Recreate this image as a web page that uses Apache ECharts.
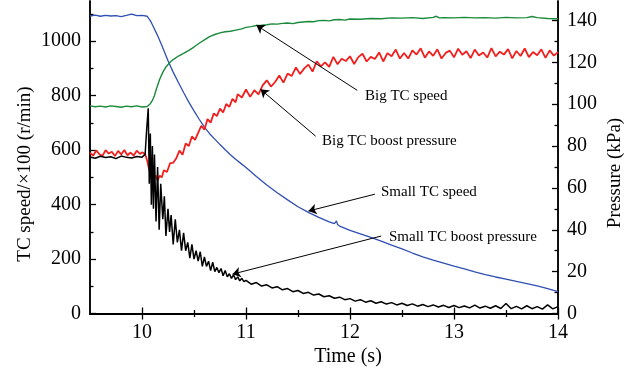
<!DOCTYPE html>
<html>
<head>
<meta charset="utf-8">
<script src="https://cdn.jsdelivr.net/npm/echarts@6/dist/echarts.min.js"></script>
<style>html,body{margin:0;padding:0;background:#fff}#c{width:637px;height:379px}</style>
</head>
<body>
<div id="c"></div>
<script>
// ---- tick labels ----
const xMajor = [10, 11, 12, 13, 14];
const xMinor = [10.5, 11.5, 12.5, 13.5];
const leftMajor = [0, 200, 400, 600, 800, 1000];
const leftMinor = [100, 300, 500, 700, 900, 1100];
const rightMajor = [0, 20, 40, 60, 80, 100, 120, 140];
const rightMinor = [10, 30, 50, 70, 90, 110, 130];

// ---- series names ----
const seriesNames = ['Small TC speed', 'Big TC speed', 'Big TC boost pressure', 'Small TC boost pressure'];

// ---- Small TC speed (r/min /100), [time s, value] ----
const smallSpeed = [[9.5,1092],[9.55,1095],[9.6,1091],[9.65,1094],[9.7,1092],[9.75,1093],[9.8,1090],[9.85,1094],[9.9,1099],[9.95,1093],[10.0,1094],[10.05,1091],[10.08,1075],[10.1,1060],[10.15,1020],[10.2,975],[10.25,928],[10.3,886],[10.35,848],[10.4,811],[10.45,776],[10.5,744],[10.55,713],[10.6,684],[10.65,660],[10.7,640],[10.75,620],[10.8,601],[10.85,583],[10.9,566],[10.95,551],[11.0,536],[11.1,503],[11.2,472],[11.3,443],[11.4,417],[11.5,392],[11.6,371],[11.7,353],[11.8,336],[11.85,330],[11.87,340],[11.88,327],[11.9,321],[12.0,305],[12.1,292],[12.2,279],[12.3,266],[12.4,251],[12.5,237],[12.6,222],[12.7,208],[12.8,196],[12.9,185],[13.0,174],[13.1,164],[13.2,153],[13.3,143],[13.4,134],[13.5,126],[13.6,118],[13.7,110],[13.8,101],[13.9,91],[14.0,80]];

// ---- Big TC speed (r/min /100) ----
const bigSpeed = [[9.5,762],[9.55,759],[9.6,761],[9.65,758],[9.7,762],[9.75,760],[9.8,757],[9.85,761],[9.9,759],[9.95,762],[10.0,758],[10.05,760],[10.08,770],[10.1,782],[10.12,800],[10.14,826],[10.17,860],[10.2,885],[10.23,905],[10.27,922],[10.3,932],[10.35,945],[10.4,955],[10.45,966],[10.5,978],[10.55,992],[10.6,1004],[10.65,1016],[10.7,1024],[10.75,1030],[10.8,1034],[10.85,1036],[10.9,1040],[10.95,1044],[11.0,1050],[11.05,1053],[11.1,1057],[11.15,1058],[11.2,1060],[11.25,1063],[11.3,1062],[11.35,1065],[11.4,1066],[11.45,1064],[11.5,1068],[11.55,1070],[11.6,1072],[11.65,1071],[11.7,1075],[11.75,1076],[11.8,1074],[11.85,1078],[11.9,1079],[11.95,1077],[12.0,1081],[12.1,1080],[12.2,1083],[12.3,1082],[12.4,1085],[12.5,1084],[12.6,1086],[12.7,1083],[12.8,1087],[12.83,1091],[12.86,1085],[12.9,1086],[13.0,1085],[13.1,1087],[13.2,1085],[13.3,1086],[13.4,1084],[13.5,1087],[13.6,1085],[13.7,1086],[13.75,1090],[13.8,1086],[13.9,1083],[14.0,1082]];

// ---- Big TC boost pressure (kPa) ----
const bigBoost = [[9.5,76.8],[9.53,75.4],[9.56,77.9],[9.59,76.1],[9.62,75.3],[9.65,78.0],[9.68,76.4],[9.71,77.3],[9.74,75.2],[9.77,77.7],[9.8,76.0],[9.83,78.1],[9.86,75.6],[9.89,76.9],[9.92,75.5],[9.95,77.8],[9.98,76.2],[10.0,77.0],
[10.03,76.2],[10.05,73.0],[10.07,68.5],[10.09,66.8],[10.11,64.2],[10.13,66.0],[10.15,63.6],[10.17,65.9],[10.19,65.0],[10.21,68.4],[10.24,67.6],[10.27,71.8],[10.3,72.0],[10.33,74.2],[10.36,77.8],[10.39,75.9],[10.42,81.2],[10.45,80.0],[10.48,84.6],[10.51,82.9],[10.54,86.3],[10.57,89.7],[10.6,87.8],[10.63,92.9],[10.66,91.2],[10.69,95.6],[10.72,94.3],[10.75,97.9],[10.78,96.0],[10.81,100.1],[10.84,98.7],[10.87,102.6],[10.9,100.9],
[10.92,104.8],[10.96,103.2],[11.0,107.0],[11.04,103.5],[11.08,106.7],[11.12,104.7],[11.16,109.0],[11.2,111.4],[11.24,108.4],[11.28,110.6],[11.32,113.7],[11.36,110.3],[11.4,114.6],[11.44,113.5],[11.48,117.6],[11.52,114.4],[11.56,117.1],[11.6,118.9],[11.64,115.6],[11.68,120.5],[11.72,118.1],[11.76,120.0],[11.8,117.8],[11.84,122.6],[11.88,119.1],[11.92,121.7],[11.96,120.6],[12.0,122.9],[12.04,119.2],[12.08,122.5],[12.12,124.1],[12.16,120.4],[12.2,122.6],[12.24,121.6],[12.28,124.7],[12.32,120.4],[12.36,124.4],[12.4,122.9],[12.44,126.1],[12.48,121.8],[12.52,124.5],[12.56,121.8],[12.6,125.7],[12.64,123.7],[12.68,126.7],[12.72,122.2],[12.76,125.2],[12.8,123.1],[12.84,126.2],[12.88,121.8],[12.92,124.5],[12.96,125.6],[13.0,122.4],[13.04,126.5],[13.08,123.6],[13.12,125.3],[13.16,122.0],[13.2,126.1],[13.24,123.3],[13.28,124.7],[13.32,122.3],[13.36,126.8],[13.4,122.8],[13.44,125.1],[13.48,123.7],[13.52,126.3],[13.56,121.9],[13.6,125.4],[13.64,123.0],[13.68,126.6],[13.72,122.5],[13.76,124.9],[13.8,123.4],[13.84,126.2],[13.88,122.1],[13.92,125.7],[13.96,123.2],[14.0,124.8]];

// ---- Small TC boost pressure (kPa) ----
const smallBoost = [[9.5,74.8],[9.55,74.2],[9.6,75.1],[9.65,74.5],[9.7,74.9],[9.75,74.0],[9.8,75.2],[9.85,74.6],[9.9,74.3],[9.95,75.0],[10.0,74.7],[10.03,76.0],[10.045,88.0],[10.06,98.0],[10.07,62.0],[10.08,86.0],[10.09,52.0],[10.1,80.0],[10.11,50.0],[10.12,76.0],[10.135,44.0],[10.15,70.0],[10.165,40.0],[10.18,62.0],[10.2,45.0],[10.215,56.0],[10.23,37.0],[10.25,50.0],[10.265,39.0],[10.28,47.0],[10.3,33.0],[10.32,45.0],[10.34,34.0],[10.36,40.0],[10.38,30.0],[10.4,38.5],[10.42,30.0],[10.44,34.0],[10.46,26.5],[10.48,33.0],[10.5,26.0],[10.52,30.0],[10.54,25.0],[10.56,29.5],[10.58,22.5],[10.6,27.0],[10.62,22.5],[10.64,25.0],[10.66,20.5],[10.68,24.5],[10.7,20.0],[10.72,22.0],[10.74,19.5],[10.76,21.5],[10.78,18.0],[10.8,20.5],[10.82,17.5],[10.84,19.0],[10.86,16.8],[10.88,18.5],[10.9,16.2],[10.92,17.5],[10.94,15.6],[10.96,16.8],[10.98,15.2],[11.0,15.8],[11.05,14.0],[11.1,14.8],[11.15,13.1],[11.2,13.7],[11.25,12.2],[11.3,12.8],[11.35,11.3],[11.4,11.9],[11.45,10.4],[11.5,11.0],[11.55,9.6],[11.6,10.1],[11.65,8.8],[11.7,9.3],[11.75,8.0],[11.8,8.5],[11.85,7.3],[11.9,7.8],[11.95,6.6],[12.0,7.1],[12.05,5.9],[12.1,6.6],[12.15,5.4],[12.2,6.1],[12.25,4.9],[12.3,5.6],[12.35,4.5],[12.4,5.2],[12.45,4.1],[12.5,4.9],[12.55,3.8],[12.6,4.6],[12.65,3.5],[12.7,4.3],[12.75,3.3],[12.8,4.1],[12.85,3.1],[12.9,3.9],[12.95,2.9],[13.0,3.8],[13.05,2.8],[13.1,3.6],[13.15,2.7],[13.2,4.0],[13.25,2.6],[13.3,3.5],[13.35,2.5],[13.4,3.7],[13.45,2.4],[13.5,4.8],[13.55,2.3],[13.6,3.4],[13.65,2.2],[13.7,3.7],[13.75,2.3],[13.8,3.3],[13.85,2.1],[13.9,4.1],[13.95,2.2],[14.0,3.3]];

// ---- annotation arrows: [start(time,value), tip(time,value)] ----
const arrowBigSpeed = [[12.07, 819], [11.10, 1058]];
const arrowBigBoost = [[11.67, 84.7], [11.14, 107.1]];
const arrowSmallSpeed = [[12.24, 438], [11.60, 376]];
const arrowSmallBoost = [[12.30, 37.0], [10.87, 18.8]];

const FONT = 'Liberation Serif';
const chart = echarts.init(document.getElementById('c'), null, {renderer: 'canvas'});

function arrowLine(a) {
  return {
    silent: true, animation: false,
    symbol: ['none', 'arrow'], symbolSize: 8,
    lineStyle: {color: '#000', width: 1, type: 'solid'},
    label: {show: false}, emphasis: {disabled: true},
    data: [[{coord: a[0]}, {coord: a[1]}]]
  };
}

const axisLineStyle = {color: '#000', width: 1.5};
const labelStyle = {color: '#000', fontFamily: FONT, fontSize: 20, formatter: v => String(v)};

function xAx(pos, ticks, len, labels) {
  return {
    type: 'value', min: 9.5, max: 14, position: pos,
    axisLine: {show: true, lineStyle: axisLineStyle},
    axisTick: {show: true, inside: true, length: len, customValues: ticks, lineStyle: {color: '#000', width: 1.3}},
    axisLabel: labels ? Object.assign({show: true, customValues: ticks, margin: 9}, labelStyle) : {show: false},
    splitLine: {show: false}
  };
}
function yAx(pos, max, ticks, len, labels) {
  return {
    type: 'value', min: 0, max: max, position: pos,
    axisLine: {show: true, lineStyle: axisLineStyle},
    axisTick: {show: true, inside: true, length: len, customValues: ticks, lineStyle: {color: '#000', width: 1.3}},
    axisLabel: labels ? Object.assign({show: true, customValues: ticks, margin: 9}, labelStyle) : {show: false},
    splitLine: {show: false}
  };
}

const option = {
  animation: false,
  backgroundColor: '#fff',
  grid: {left: 90, right: 79, top: 1, bottom: 65.5, containLabel: false},
  xAxis: [
    xAx('bottom', xMajor, 6, true),
    xAx('bottom', xMinor, 3.5, false),
    xAx('top', xMajor, 6, false),
    xAx('top', xMinor, 3.5, false)
  ],
  yAxis: [
    yAx('left', 1147, leftMajor, 6, true),
    yAx('right', 149.3, rightMajor, 6, true),
    yAx('left', 1147, leftMinor, 3.5, false),
    yAx('right', 149.3, rightMinor, 3.5, false)
  ],
  series: [
    {name: seriesNames[0], type: 'line', xAxisIndex: 0, yAxisIndex: 0, data: smallSpeed, showSymbol: false, symbol: 'none',
     lineStyle: {color: '#2f4fb4', width: 1.3}, markLine: arrowLine(arrowSmallSpeed)},
    {name: seriesNames[1], type: 'line', xAxisIndex: 0, yAxisIndex: 0, data: bigSpeed, showSymbol: false, symbol: 'none',
     lineStyle: {color: '#1a8a3c', width: 1.4}, markLine: arrowLine(arrowBigSpeed)},
    {name: seriesNames[2], type: 'line', xAxisIndex: 0, yAxisIndex: 1, data: bigBoost, showSymbol: false, symbol: 'none',
     lineStyle: {color: '#f0201e', width: 1.8}, markLine: arrowLine(arrowBigBoost)},
    {name: seriesNames[3], type: 'line', xAxisIndex: 0, yAxisIndex: 1, data: smallBoost, showSymbol: false, symbol: 'none',
     lineStyle: {color: '#000', width: 1.5}, markLine: arrowLine(arrowSmallBoost)}
  ],
  graphic: [
    {type: 'text', x: 25, y: 174, rotation: Math.PI / 2,
     style: {text: 'TC speed/×100 (r/min)', font: '19px "Liberation Serif"', fill: '#000', textAlign: 'center', textVerticalAlign: 'middle'}},
    {type: 'text', x: 615, y: 173, rotation: Math.PI / 2,
     style: {text: 'Pressure (kPa)', font: '19px "Liberation Serif"', fill: '#000', textAlign: 'center', textVerticalAlign: 'middle'}},
    {type: 'text', x: 348, y: 357,
     style: {text: 'Time (s)', font: '20px "Liberation Serif"', fill: '#000', textAlign: 'center', textVerticalAlign: 'middle'}},
    {type: 'text', x: 365, y: 96,
     style: {text: 'Big TC speed', font: '15px "Liberation Serif"', fill: '#000', textAlign: 'left', textVerticalAlign: 'middle'}},
    {type: 'text', x: 322, y: 141,
     style: {text: 'Big TC boost pressure', font: '15px "Liberation Serif"', fill: '#000', textAlign: 'left', textVerticalAlign: 'middle'}},
    {type: 'text', x: 381, y: 192,
     style: {text: 'Small TC speed', font: '15px "Liberation Serif"', fill: '#000', textAlign: 'left', textVerticalAlign: 'middle'}},
    {type: 'text', x: 389, y: 237.5,
     style: {text: 'Small TC boost pressure', font: '15px "Liberation Serif"', fill: '#000', textAlign: 'left', textVerticalAlign: 'middle'}}
  ]
};
chart.setOption(option);
</script>
</body>
</html>
